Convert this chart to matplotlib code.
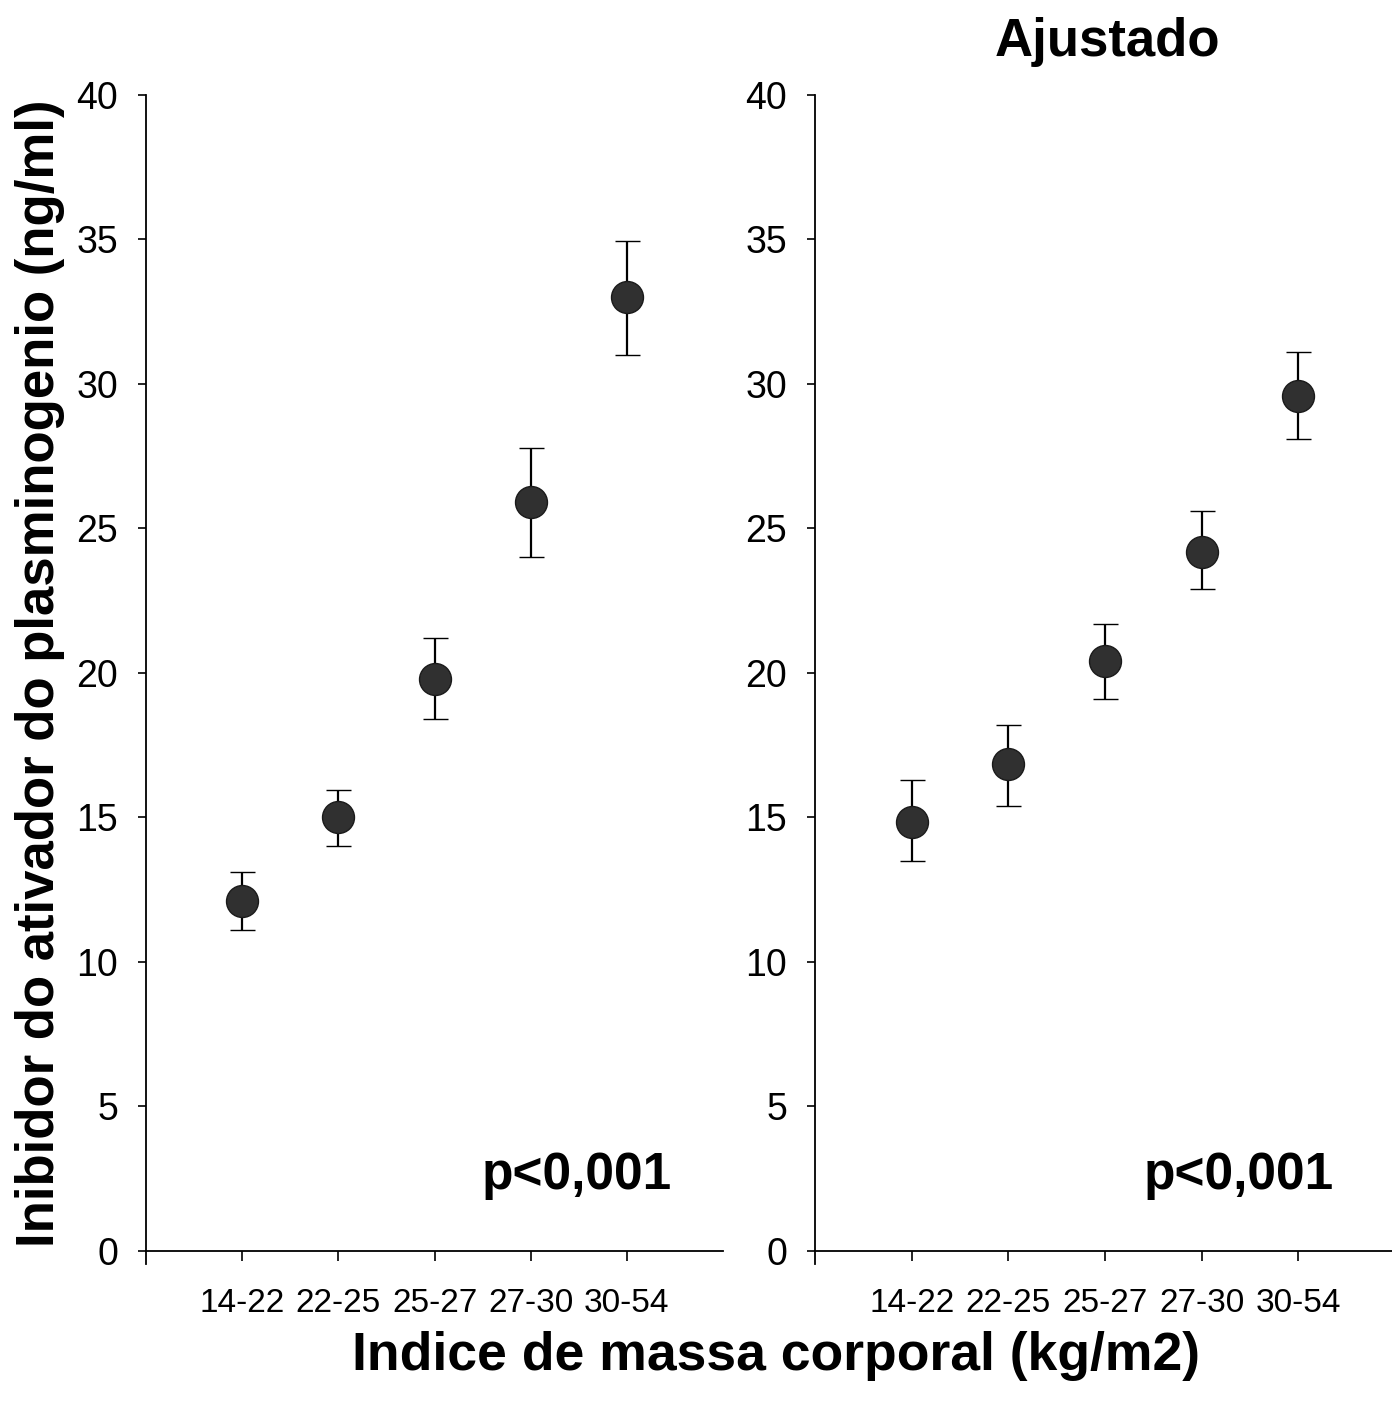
import numpy as np
import matplotlib.pyplot as plt

# dados
categorias = ["14-22", "22-25", "25-27", "27-30", "30-54"]

bruto = [12.1, 15.0, 19.8, 25.9, 33.0]
bruto_sup = [13.1, 15.95, 21.2, 27.8, 34.95]
bruto_inf = [11.1, 14.0, 18.4, 24.0, 31.0]

ajust = [14.85, 16.85, 20.4, 24.2, 29.6]
ajust_sup = [16.3, 18.2, 21.7, 25.6, 31.1]
ajust_inf = [13.5, 15.4, 19.1, 22.9, 28.1]

plt.rcParams['font.family'] = ['Liberation Sans', 'DejaVu Sans']

fig = plt.figure(figsize=(13.92, 14.07), dpi=100)
# eixo y de -0.45 a 40: 0 fica em ~1251 px
ax1 = fig.add_axes([146 / 1392, 1 - 1264 / 1407, 577 / 1392, 1169 / 1407])
ax2 = fig.add_axes([815 / 1392, 1 - 1264 / 1407, 580 / 1392, 1169 / 1407])


def painel(ax, y, sup, inf, xp):
    x = np.arange(1, len(categorias) + 1)
    y = np.array(y)
    err = [y - np.array(inf), np.array(sup) - y]
    ax.errorbar(x, y, yerr=err, fmt='o', color='black', ecolor='black',
                elinewidth=1.6, capsize=9, capthick=1.6,
                markersize=23, markerfacecolor='#303030',
                markeredgecolor='#1a1a1a', markeredgewidth=1)
    ax.set_xlim(0, 6)
    ax.set_ylim(-0.45, 40)
    ax.set_xticks(x)
    ax.set_xticklabels(categorias)
    ax.set_yticks(range(0, 41, 5))
    ax.tick_params(axis='y', labelsize=27, length=6, width=1.2, pad=14)
    ax.tick_params(axis='x', labelsize=24, length=7, width=1.2, pad=20)
    ax.spines['top'].set_visible(False)
    ax.spines['right'].set_visible(False)
    ax.spines['bottom'].set_position(('data', 0))
    ax.spines['left'].set_linewidth(1.3)
    ax.spines['bottom'].set_linewidth(1.3)
    ax.text(xp, 2.6, "p<0,001", ha='right', va='center',
            fontsize=37, fontweight='bold')


painel(ax1, bruto, bruto_sup, bruto_inf, 5.47)
painel(ax2, ajust, ajust_sup, ajust_inf, 5.37)

fig.text(1107 / 1392, 1 - 42 / 1407, "Ajustado", ha='center', va='center',
         fontsize=38, fontweight='bold')
fig.text(40 / 1392, 1 - 673 / 1407, "Inibidor do ativador do plasminogenio (ng/ml)",
         ha='center', va='center', rotation=90, fontsize=38, fontweight='bold')
fig.text(776 / 1392, 1 - 1356 / 1407, "Indice de massa corporal (kg/m2)",
         ha='center', va='center', fontsize=38.5, fontweight='bold')

fig.savefig("out.png", dpi=100)
